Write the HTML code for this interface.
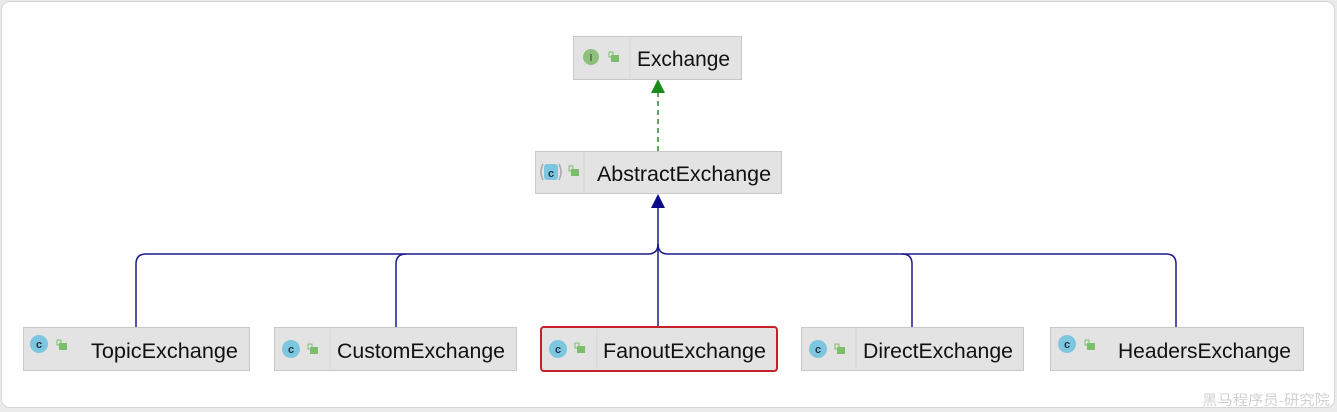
<!DOCTYPE html>
<html><head><meta charset="utf-8"><style>
html,body{margin:0;padding:0;background:#e9e9e9;}
svg{display:block;}
text{font-family:"Liberation Sans","Noto Sans CJK SC",sans-serif;}
</style></head><body>
<svg width="1337" height="412" viewBox="0 0 1337 412" xmlns="http://www.w3.org/2000/svg">
<rect x="0" y="0" width="1337" height="412" fill="#ebebeb"/>
<rect x="1.5" y="1.5" width="1333" height="406" rx="8" fill="#fff" stroke="#d6d6d6"/>

<g fill="none" stroke="#1a1a8a" stroke-width="1.5">
<path d="M136 327 V264 Q136 254 146 254 H648 Q658 254 658 244"/>
<path d="M396 327 V264 Q396 254 406 254"/>
<path d="M1176 327 V264 Q1176 254 1166 254 H668 Q658 254 658 244"/>
<path d="M912 327 V264 Q912 254 902 254"/>
<path d="M658 327 V206"/>
</g>
<polygon points="658,194 651,208 665,208" fill="#0b0b8a"/>
<path d="M658 151 V92" stroke="#2a8a2a" stroke-width="1.5" stroke-dasharray="5,4" fill="none"/>
<polygon points="658,79 651,93 665,93" fill="#1a8a1a"/>

<g font-size="21" fill="#111" lengthAdjust="spacingAndGlyphs">
<rect x="573.5" y="36.5" width="168" height="43" fill="#e3e3e3" stroke="#c8c8c8"/>
<line x1="630" y1="38" x2="630" y2="78" stroke="#d4d4d4"/>
<circle cx="591" cy="57" r="8" fill="#8ec07c"/>
<text x="591" y="61" font-size="10" text-anchor="middle" fill="#333" font-family="Liberation Serif">I</text>
<rect x="609" y="52" width="4" height="5" fill="none" stroke="#7cbf6a" stroke-width="1"/><rect x="611" y="55" width="8" height="7" fill="#7cbf6a"/>
<text x="637" y="66" textLength="93" lengthAdjust="spacingAndGlyphs">Exchange</text>

<rect x="535.5" y="151.5" width="246" height="42" fill="#e3e3e3" stroke="#c8c8c8"/>
<line x1="584" y1="153" x2="584" y2="192" stroke="#d4d4d4"/>
<rect x="544" y="164" width="14" height="16" rx="3" fill="#7cc6e0"/>
<path d="M543 164 Q539 172 543 180 M559 164 Q563 172 559 180" stroke="#aaa" stroke-width="1.5" fill="none"/>
<text x="551" y="177" font-size="11" text-anchor="middle" fill="#234" font-weight="bold">c</text>
<rect x="569" y="166" width="4" height="5" fill="none" stroke="#7cbf6a"/><rect x="571" y="169" width="8" height="7" fill="#7cbf6a"/>
<text x="597" y="181" textLength="174" lengthAdjust="spacingAndGlyphs">AbstractExchange</text>
</g>

<g font-size="21" fill="#111">
<rect x="23.5" y="327.5" width="226" height="43" fill="#e3e3e3" stroke="#c8c8c8"/>
<circle cx="39" cy="344" r="9" fill="#7cc6e0"/><text x="39" y="348" font-size="11" text-anchor="middle" fill="#234" font-weight="bold">c</text>
<rect x="57" y="340" width="4" height="5" fill="none" stroke="#7cbf6a"/><rect x="59" y="343" width="8" height="7" fill="#7cbf6a"/>
<text x="91" y="358" textLength="147" lengthAdjust="spacingAndGlyphs">TopicExchange</text>

<rect x="274.5" y="327.5" width="242" height="43" fill="#e3e3e3" stroke="#c8c8c8"/>
<line x1="330" y1="329" x2="330" y2="369" stroke="#d4d4d4"/>
<circle cx="291" cy="349" r="9" fill="#7cc6e0"/><text x="291" y="353" font-size="11" text-anchor="middle" fill="#234" font-weight="bold">c</text>
<rect x="308" y="344" width="4" height="5" fill="none" stroke="#7cbf6a"/><rect x="310" y="347" width="8" height="7" fill="#7cbf6a"/>
<text x="337" y="358" textLength="168" lengthAdjust="spacingAndGlyphs">CustomExchange</text>

<rect x="541" y="327" width="236" height="44" rx="3" fill="#e3e3e3" stroke="#c8202a" stroke-width="2"/>
<line x1="597" y1="329" x2="597" y2="369" stroke="#d4d4d4"/>
<circle cx="558" cy="349" r="9" fill="#7cc6e0"/><text x="558" y="353" font-size="11" text-anchor="middle" fill="#234" font-weight="bold">c</text>
<rect x="575" y="343" width="4" height="5" fill="none" stroke="#7cbf6a"/><rect x="577" y="346" width="8" height="7" fill="#7cbf6a"/>
<text x="603" y="358" textLength="163" lengthAdjust="spacingAndGlyphs">FanoutExchange</text>

<rect x="801.5" y="327.5" width="222" height="43" fill="#e3e3e3" stroke="#c8c8c8"/>
<line x1="856" y1="329" x2="856" y2="369" stroke="#d4d4d4"/>
<circle cx="818" cy="349" r="9" fill="#7cc6e0"/><text x="818" y="353" font-size="11" text-anchor="middle" fill="#234" font-weight="bold">c</text>
<rect x="835" y="344" width="4" height="5" fill="none" stroke="#7cbf6a"/><rect x="837" y="347" width="8" height="7" fill="#7cbf6a"/>
<text x="863" y="358" textLength="150" lengthAdjust="spacingAndGlyphs">DirectExchange</text>

<rect x="1050.5" y="327.5" width="253" height="43" fill="#e3e3e3" stroke="#c8c8c8"/>
<circle cx="1067" cy="344" r="9" fill="#7cc6e0"/><text x="1067" y="348" font-size="11" text-anchor="middle" fill="#234" font-weight="bold">c</text>
<rect x="1085" y="340" width="4" height="5" fill="none" stroke="#7cbf6a"/><rect x="1087" y="343" width="8" height="7" fill="#7cbf6a"/>
<text x="1118" y="358" textLength="173" lengthAdjust="spacingAndGlyphs">HeadersExchange</text>
</g>

<text x="1202" y="405" font-size="14" fill="#d0d0d0" textLength="128" lengthAdjust="spacingAndGlyphs" font-family="'Noto Serif CJK SC','Noto Sans CJK SC',serif">黑马程序员-研究院</text>
</svg>
</body></html>
